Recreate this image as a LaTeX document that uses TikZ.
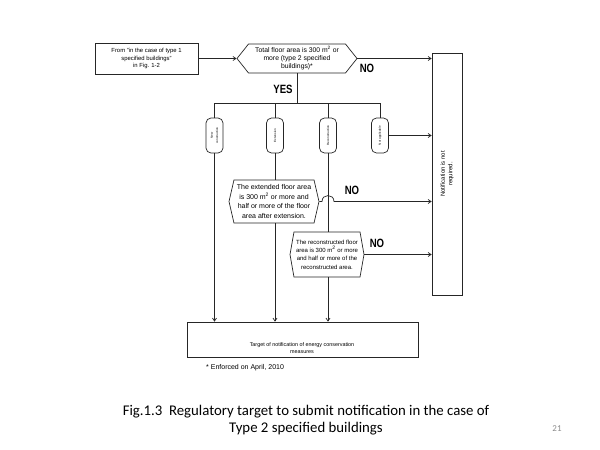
\documentclass[tikz,border=0pt]{standalone}
\usepackage{fontspec}
\setmainfont{Liberation Sans}
\newfontfamily\capfont{Carlito}
\usetikzlibrary{shapes.symbols,arrows.meta,calc}
\begin{document}
\begin{tikzpicture}[x=1pt,y=-1pt,
  line/.style={draw=black!85, line width=0.7pt},
  arr/.style={line, -{Straight Barb[length=3pt,width=4pt]}},
  box/.style={draw=black!85, line width=0.7pt, rectangle, inner sep=0pt},
  hexa/.style={draw=black!85, line width=0.7pt, signal, signal to=west and east, inner sep=0pt},
  pill/.style={draw=black!85, line width=0.7pt, rectangle, rounded corners=5pt, minimum width=17pt, minimum height=35pt, inner sep=0pt, font=\fontsize{3}{3.5}\selectfont},
  yn/.style={font=\fontsize{12}{12}\selectfont\bfseries, inner sep=0pt},
]
\useasboundingbox (0,0) rectangle (600,450);
\fill[white] (0,0) rectangle (600,450);

\node[box, minimum width=103pt, minimum height=31pt, align=center, font=\fontsize{5.9}{7.5}\selectfont] (from) at (146.5,58.5) {From "in the case of type 1\\specified buildings"\\in Fig. 1-2};
\node[hexa, minimum width=120pt, minimum height=29pt, signal pointer angle=103, align=center, font=\fontsize{6.8}{8}\selectfont] (main) at (297,58.5) {Total floor area is 300 m\textsuperscript{2} or\\more (type 2 specified\\buildings)*};
\node[box, minimum width=30pt, minimum height=242pt, font=\fontsize{6}{7}\selectfont] (notif) at (447,174) {\rotatebox{90}{\shortstack{Notification is not\\required.}}};

\node[yn] (no1) at (367,68) {\scalebox{0.8}[1]{NO}};
\node[yn] (yes) at (283,89) {\scalebox{0.8}[1]{YES}};

\node[pill] (n1) at (214.5,135.5) {\rotatebox{90}{\shortstack{New\\construction}}};
\node[pill] (n2) at (275,135.5) {\rotatebox{90}{Extension}};
\node[pill] (n3) at (328,135.5) {\rotatebox{90}{Reconstruction}};
\node[pill] (n4) at (380,135.5) {\rotatebox{90}{Not applicable}};

\node[hexa, minimum width=90pt, minimum height=43pt, signal pointer angle=154, align=center, font=\fontsize{7}{9.5}\selectfont] (ext) at (274,201.5) {The extended floor area\\is 300 m\textsuperscript{2} or more and\\half or more of the floor\\area after extension.};
\node[hexa, minimum width=74pt, minimum height=45pt, signal pointer angle=160, align=center, font=\fontsize{6}{8.3}\selectfont] (rec) at (327,254.5) {The reconstructed floor\\area is 300 m\textsuperscript{2} or more\\and half or more of the\\reconstructed area.};

\node[yn] (no2) at (352,190) {\scalebox{0.8}[1]{NO}};
\node[yn] (no3) at (377,243) {\scalebox{0.8}[1]{NO}};

\node[box, minimum width=231pt, minimum height=35pt] (tgt) at (302.5,339.5) {};
\node[align=center, inner sep=0pt, font=\fontsize{5.4}{7.5}\selectfont] (tgtt) at (302,348) {Target of notification of energy conservation\\measures};

\node[anchor=west, inner sep=0pt, font=\fontsize{7}{8}\selectfont] (enf) at (206,368) {* Enforced on April, 2010};

\node[align=center, inner sep=0pt, font=\capfont\fontsize{14.8}{17.5}\selectfont] (cap) at (306,420) {Fig.1.3~~Regulatory target to submit notification in the case of\\Type 2 specified buildings};
\node[inner sep=0pt, font=\capfont\fontsize{9}{9}\selectfont, text=black!45] (pg) at (557,429) {21};

% connectors
\draw[arr] (from) -- (main);
\draw[arr] (main.east) -- (notif.west |- main.east);
\coordinate (busM) at (297,103);
\coordinate (busL) at (214.5,103);
\coordinate (busR) at (380,103);
\draw[line] (main.south) -- (busM);
\draw[line] (busL) -- (busR);
\draw[line] (n1.north |- busL) -- (n1.north);
\draw[line] (n2.north |- busL) -- (n2.north);
\draw[line] (n3.north |- busL) -- (n3.north);
\draw[line] (n4.north |- busL) -- (n4.north);
\draw[arr] (n4.east) -- (notif.west |- n4.east);
\draw[arr] (n1.south) -- (n1.south |- tgt.north);
\draw[line] (n2.south) -- (n2.south |- ext.north);
\draw[arr] (n2.south |- ext.south) -- (n2.south |- tgt.north);
\draw[line] (n3.south) -- (n3.south |- rec.north);
\draw[arr] (n3.south |- rec.south) -- (n3.south |- tgt.north);
\draw[arr] (ext.east) -- ($(n3.south |- ext.east)+(-6,0)$) to[out=90,in=90,looseness=1.7] ($(n3.south |- ext.east)+(6,0)$) -- (notif.west |- ext.east);
\draw[arr] (rec.east) -- (notif.west |- rec.east);
\end{tikzpicture}
\end{document}
